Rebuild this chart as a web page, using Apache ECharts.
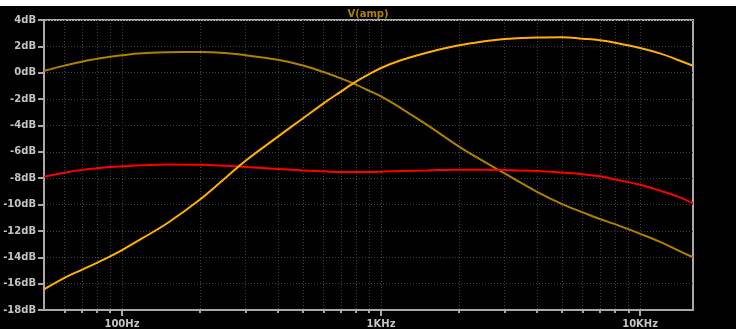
<!DOCTYPE html>
<html>
<head>
<meta charset="utf-8">
<script src="https://cdn.jsdelivr.net/npm/echarts@6/dist/echarts.min.js"></script>
<style>
  html, body { margin: 0; padding: 0; background: #ffffff; }
  #chart { position: absolute; left: 0; top: 6px; width: 736px; height: 323px; background: #000000; }
</style>
</head>
<body>
<div id="chart"></div>
<script>
// Frequency sweep points (Hz)
const freqs = [50, 60, 70, 80, 90, 100, 120, 150, 200, 250, 300, 400, 500, 600, 700, 800, 900,
  1000, 1200, 1500, 2000, 2500, 3000, 4000, 5000, 6000, 7000, 8000, 10000, 12000, 14000, 16000];

// Magnitude of V(amp) for the three traces (dB)
const traceGold = [0.15, 0.54, 0.84, 1.05, 1.22, 1.33, 1.47, 1.56, 1.57, 1.5, 1.33, 0.98, 0.55, 0.05, -0.43,
  -0.9, -1.37, -1.8, -2.72, -3.94, -5.6, -6.75, -7.64, -9.04, -9.97, -10.59, -11.1, -11.49, -12.22, -12.85, -13.47, -14.0];
const traceOrange = [-16.43, -15.56, -14.95, -14.42, -13.93, -13.45, -12.55, -11.4, -9.62, -8.0, -6.68, -4.85, -3.45,
  -2.32, -1.43, -0.67, -0.1, 0.36, 0.96, 1.52, 2.08, 2.38, 2.55, 2.68, 2.7, 2.58, 2.46, 2.28, 1.88, 1.45, 0.97, 0.53];
const traceRed = [-7.89, -7.58, -7.37, -7.25, -7.16, -7.1, -7.02, -6.96, -6.98, -7.06, -7.15, -7.3, -7.42, -7.48,
  -7.53, -7.53, -7.53, -7.51, -7.45, -7.41, -7.36, -7.36, -7.38, -7.45, -7.57, -7.7, -7.86, -8.1, -8.5, -8.96, -9.4, -9.91];

// Axis ticks
const gridFreqs = [60, 70, 80, 90, 100, 200, 300, 400, 500, 600, 700, 800, 900, 1000,
  2000, 3000, 4000, 5000, 6000, 7000, 8000, 9000, 10000];
const decadeFreqs = [100, 1000, 10000];
const decadeLabels = ['100Hz', '1KHz', '10KHz'];
const freqMin = 50, freqMax = 16000;
const dbMin = -18, dbMax = 4, dbStep = 2;

const lg = Math.log10;
const pairs = (vals) => freqs.map((f, i) => [lg(f), vals[i]]);

const axisGray = '#a9a9a9';
const textGray = '#c4c4c4';
const gridGray = '#404040';
const fontFam = '"DejaVu Sans", Verdana, sans-serif';

const chart = echarts.init(document.getElementById('chart'));
chart.setOption({
  backgroundColor: '#000000',
  animation: false,
  title: {
    text: 'V(amp)',
    left: 'center',
    top: -2,
    textStyle: { color: '#b08000', fontFamily: fontFam, fontSize: 10, fontWeight: 'bold' }
  },
  grid: {
    left: 44, right: 43, top: 14, bottom: 19,
    show: true, borderColor: axisGray, borderWidth: 2, backgroundColor: 'transparent'
  },
  xAxis: [
    {
      type: 'value', position: 'bottom',
      min: lg(freqMin), max: lg(freqMax),
      axisLine: { show: true, onZero: false, lineStyle: { color: axisGray, width: 2 } },
      axisTick: { show: true, customValues: gridFreqs.map(lg), length: 3, lineStyle: { color: axisGray, width: 2 } },
      axisLabel: { show: false },
      splitLine: { show: true, lineStyle: { color: gridGray, width: 1, type: [1, 2] } }
    },
    {
      type: 'value', position: 'bottom',
      min: lg(freqMin), max: lg(freqMax),
      axisLine: { show: false, onZero: false },
      axisTick: { show: true, customValues: decadeFreqs.map(lg), length: 6, lineStyle: { color: axisGray, width: 2 } },
      axisLabel: {
        show: true, customValues: decadeFreqs.map(lg), margin: 9,
        color: textGray, fontFamily: fontFam, fontSize: 10, fontWeight: 'bold',
        formatter: (v) => {
          const i = decadeFreqs.findIndex(f => Math.abs(lg(f) - v) < 1e-6);
          return i >= 0 ? decadeLabels[i] : '';
        }
      },
      splitLine: { show: false }
    }
  ],
  yAxis: {
    type: 'value',
    min: dbMin, max: dbMax, interval: dbStep,
    axisLine: { show: true, onZero: false, lineStyle: { color: axisGray, width: 2 } },
    axisTick: { show: true, length: 6, lineStyle: { color: axisGray, width: 2 } },
    axisLabel: {
      margin: 8, color: textGray, fontFamily: fontFam, fontSize: 10, fontWeight: 'bold',
      formatter: (v) => v + 'dB'
    },
    splitLine: { show: true, lineStyle: { color: gridGray, width: 1, type: [1, 2] } }
  },
  series: [
    { type: 'line', xAxisIndex: 0, data: pairs(traceGold), smooth: 0.4, symbol: 'none',
      lineStyle: { color: '#b08000', width: 2 } },
    { type: 'line', xAxisIndex: 0, data: pairs(traceRed), smooth: 0.4, symbol: 'none',
      lineStyle: { color: '#ff0000', width: 2 } },
    { type: 'line', xAxisIndex: 0, data: pairs(traceOrange), smooth: 0.4, symbol: 'none',
      lineStyle: { color: '#ffb000', width: 2 } }
  ]
});
</script>
</body>
</html>
